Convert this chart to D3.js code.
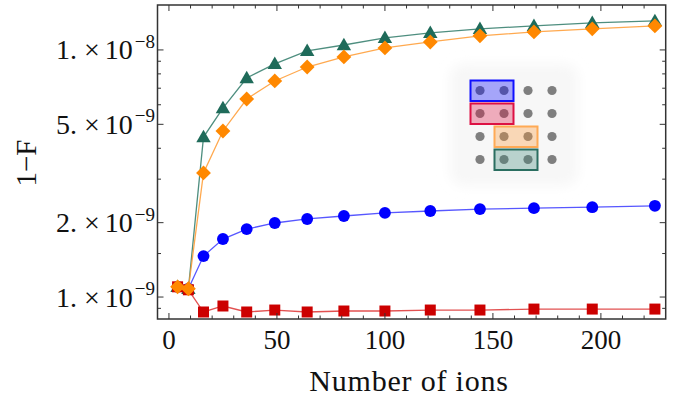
<!DOCTYPE html>
<html>
<head>
<meta charset="utf-8">
<script src="https://cdn.jsdelivr.net/npm/d3@7"></script>
<style>
  body { margin: 0; background: #fff; }
  svg { display: block; }
  text { font-family: "Liberation Serif", "DejaVu Serif", serif; fill: #111; }
</style>
</head>
<body>
<div id="chart"></div>
<script>
// data, values of 1-F in units of 1e-9
const ions = [4, 9, 16, 25, 36, 49, 64, 81, 100, 121, 144, 169, 196, 225]
const blueVals = [1.10, 1.08, 1.465, 1.717, 1.884, 1.994, 2.07, 2.128, 2.19, 2.23, 2.27, 2.29, 2.31, 2.34]
const greenVals = [1.10, 1.08, 4.44, 5.82, 7.70, 8.78, 9.91, 10.47, 11.19, 11.72, 12.17, 12.51, 12.86, 13.10]
const redVals = [1.10, 1.07, 0.870, 0.920, 0.870, 0.886, 0.870, 0.878, 0.878, 0.886, 0.886, 0.894, 0.894, 0.894]
const orangeVals = [1.10, 1.08, 3.18, 4.70, 6.33, 7.49, 8.53, 9.37, 10.19, 10.77, 11.40, 11.83, 12.17, 12.51]

const xTicks = [0, 50, 100, 150, 200]
const xMinorTicks = d3.range(10, 230, 10).filter(v => v % 50 !== 0)
const yMajorTicks = [1e-9, 2e-9, 5e-9, 1e-8]
const yMantissas = ['1.', '2.', '5.', '1.']
const yExponents = ['\u22129', '\u22129', '\u22129', '\u22128']
const yMinorTicks = [0.9e-9, 1.5e-9, 3e-9, 4e-9, 6e-9, 7e-9, 8e-9, 9e-9]

// inset: 4x4 ion grid, highlighted pairs (row, first column)
const gridRows = [0, 1, 2, 3]
const gridCols = [0, 1, 2, 3]
const pairRows = [0, 1, 2, 3]
const pairCols = [0, 0, 1, 1]
const pairFill = ['#0000ff', '#dd1144', '#ff9933', '#3d8a78']
const pairStroke = ['#1010ff', '#dd1144', '#ffaa55', '#2a6e60']

const width = 680
const height = 399

const svg = d3.select('#chart').append('svg')
  .attr('width', width)
  .attr('height', height)

const x = d3.scaleLinear().domain([-5.3, 230]).range([157.5, 665.7])
const y = d3.scaleLog().domain([0.815e-9, 1.52e-8]).range([319, 5])

const plotL = x.range()[0], plotR = x.range()[1]
const plotT = y.range()[1], plotB = y.range()[0]

// inset background (soft shadow)
const defs = svg.append('defs')
defs.append('filter').attr('id', 'soft')
  .attr('x', '-30%').attr('y', '-30%').attr('width', '160%').attr('height', '160%')
  .append('feGaussianBlur').attr('stdDeviation', 6)

const inset = svg.append('g')
const gx = d3.scaleLinear().domain([0, 3]).range([480, 552])
const gy = d3.scaleLinear().domain([0, 3]).range([90.5, 159.5])

inset.append('rect')
  .attr('x', 450).attr('y', 64).attr('width', 128).attr('height', 122)
  .attr('rx', 14)
  .attr('fill', '#f7f7f7')
  .attr('filter', 'url(#soft)')

gridRows.forEach(r => {
  gridCols.forEach(c => {
    inset.append('circle')
      .attr('cx', gx(c)).attr('cy', gy(r)).attr('r', 4.6)
      .attr('fill', '#7f7f7f')
  })
})

pairRows.forEach((r, i) => {
  const c = pairCols[i]
  inset.append('rect')
    .attr('x', gx(c) - 9.5).attr('y', gy(r) - 10)
    .attr('width', gx(c + 1) - gx(c) + 19).attr('height', 20.5)
    .attr('fill', pairFill[i]).attr('fill-opacity', 0.33)
    .attr('stroke', pairStroke[i]).attr('stroke-width', 2)
})

// series
const series = [
  { vals: blueVals, color: '#0000ff', line: '#3a3aff', shape: 'circle' },
  { vals: greenVals, color: '#1f6b5a', line: '#2f7a68', shape: 'triangle' },
  { vals: redVals, color: '#cc0000', line: '#dd3333', shape: 'square' },
  { vals: orangeVals, color: '#ff8800', line: '#ff9a30', shape: 'diamond' }
]

const symbols = {
  circle: d3.symbol().type(d3.symbolCircle).size(110),
  triangle: d3.symbol().type(d3.symbolTriangle).size(90),
  square: d3.symbol().type(d3.symbolSquare).size(121),
  diamond: d3.symbol().type(d3.symbolSquare).size(110)
}

const line = d3.line()
  .x(d => x(d[0]))
  .y(d => y(d[1] * 1e-9))

series.forEach(s => {
  const pts = ions.map((n, i) => [n, s.vals[i]])
  svg.append('path')
    .datum(pts)
    .attr('d', line)
    .attr('fill', 'none')
    .attr('stroke', s.line)
    .attr('stroke-opacity', 0.85)
    .attr('stroke-width', 1.3)
})

series.forEach(s => {
  const pts = ions.map((n, i) => [n, s.vals[i]])
  svg.append('g').selectAll('path')
    .data(pts)
    .join('path')
    .attr('d', symbols[s.shape])
    .attr('transform', d => {
      const t = `translate(${x(d[0])},${y(d[1] * 1e-9)})`
      if (s.shape === 'diamond') return t + ' rotate(45)'
      if (s.shape === 'triangle') return t + ' translate(0,1)'
      return t
    })
    .attr('fill', s.color)
})

// frame
const axisColor = '#333'
svg.append('rect')
  .attr('x', plotL).attr('y', plotT)
  .attr('width', plotR - plotL).attr('height', plotB - plotT)
  .attr('fill', 'none')
  .attr('stroke', axisColor)
  .attr('stroke-width', 1.5)

const ticks = svg.append('g').attr('stroke', axisColor).attr('stroke-width', 1)

function xTick(v, len) {
  ticks.append('line').attr('x1', x(v)).attr('x2', x(v)).attr('y1', plotB).attr('y2', plotB - len)
  ticks.append('line').attr('x1', x(v)).attr('x2', x(v)).attr('y1', plotT).attr('y2', plotT + len)
}
function yTick(v, len) {
  ticks.append('line').attr('y1', y(v)).attr('y2', y(v)).attr('x1', plotL).attr('x2', plotL + len)
  ticks.append('line').attr('y1', y(v)).attr('y2', y(v)).attr('x1', plotR).attr('x2', plotR - len)
}
xTicks.forEach(v => xTick(v, 6))
xMinorTicks.forEach(v => xTick(v, 3.5))
yMajorTicks.forEach(v => yTick(v, 6))
yMinorTicks.forEach(v => yTick(v, 3.5))

// x tick labels
svg.append('g').selectAll('text')
  .data(xTicks)
  .join('text')
  .attr('x', d => x(d))
  .attr('y', 349)
  .attr('text-anchor', 'middle')
  .style('font-size', '27px')
  .text(d => d)

// y tick labels
yMajorTicks.forEach((v, i) => {
  const t = svg.append('text')
    .attr('x', 155)
    .attr('y', y(v) + 9.5)
    .attr('text-anchor', 'end')
    .style('font-size', '28px')
  t.append('tspan').text(yMantissas[i])
  t.append('tspan').attr('dx', 7).text('\u00d7')
  t.append('tspan').attr('dx', 5).text('10')
  t.append('tspan').attr('dx', 2).attr('dy', -11.5).style('font-size', '19px').text(yExponents[i])
})

// axis titles
svg.append('text')
  .attr('x', 409)
  .attr('y', 391)
  .attr('text-anchor', 'middle')
  .style('font-size', '30px')
  .style('letter-spacing', '0.8px')
  .text('Number of ions')

svg.append('text')
  .attr('transform', 'translate(36,163) rotate(-90)')
  .attr('text-anchor', 'middle')
  .style('font-size', '29px')
  .text('1\u2212F')
</script>
</body>
</html>
